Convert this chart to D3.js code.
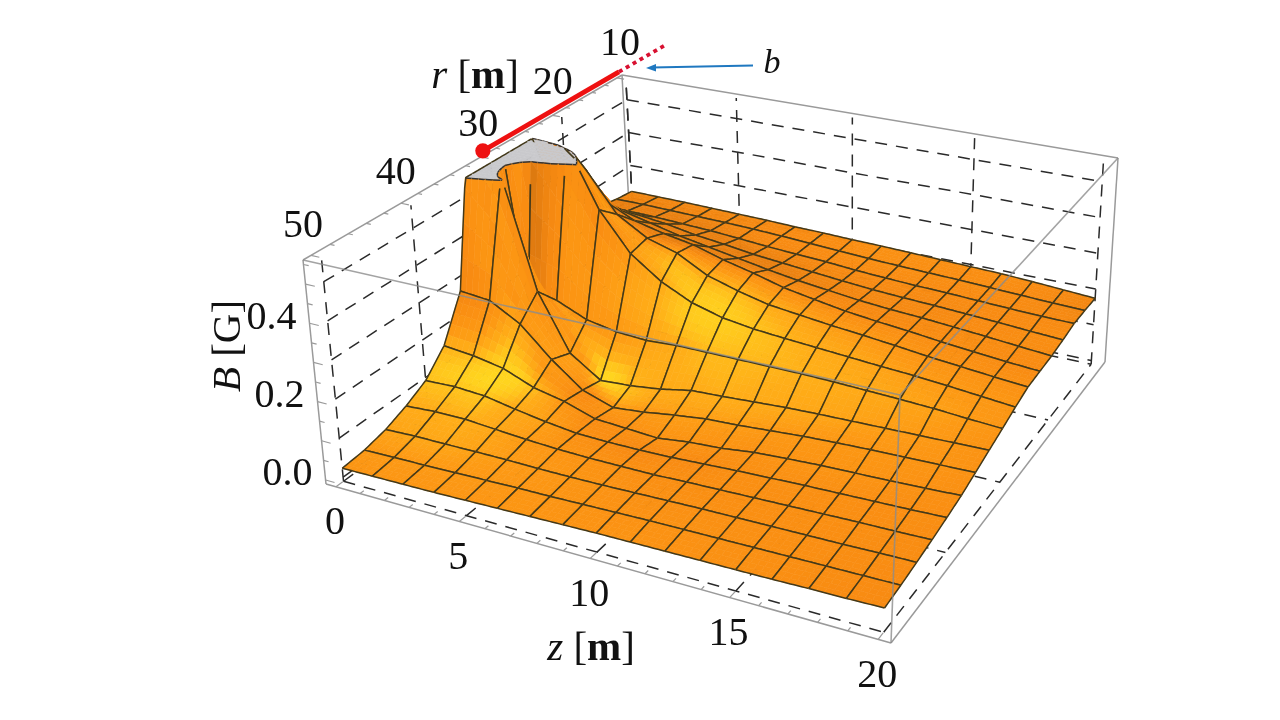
<!DOCTYPE html>
<html><head><meta charset="utf-8">
<script src="https://cdn.jsdelivr.net/npm/d3@7"></script>
<style>html,body{margin:0;padding:0;background:#fff}svg{display:block;filter:blur(.4px)}text{font-family:"Liberation Serif",serif;fill:#111}</style>
</head><body><svg id="c" width="1280" height="720"></svg>
<script>
// Tick labels
const zTicks=[0,5,10,15,20], rTicks=[50,40,30,20,10], bTicks=[0,0.2,0.4], bGrid=[0,0.1,0.2,0.3,0.4,0.5];
// B [G] sampled on the mesh, one array per r, from z=0 to z=20 in steps of 1.25 m
const r50  =[.023,.024,.025,.026,.028,.030,.032,.034,.036,.037,.038,.039,.040,.041,.043,.044,.046];
const r47_5=[.028,.030,.031,.033,.035,.037,.038,.040,.042,.044,.045,.046,.047,.048,.049,.050,.051];
const r45  =[.041,.044,.044,.045,.045,.044,.044,.045,.047,.049,.051,.052,.053,.054,.055,.057,.058];
const r42_5=[.063,.068,.068,.062,.056,.052,.050,.050,.050,.053,.055,.057,.059,.061,.063,.064,.066];
const r40  =[.092,.095,.090,.075,.062,.052,.050,.050,.052,.056,.060,.063,.066,.068,.070,.072,.075];
const r37_5=[.148,.140,.125,.093,.076,.050,.045,.040,.050,.055,.065,.070,.074,.076,.078,.081,.085];
const r35  =[.261,.253,.207,.130,.067,.040,.048,.060,.070,.074,.080,.086,.090,.093,.095,.097,.099];
const r32_5=[.700,.560,.260,.110,.055,.060,.070,.086,.090,.095,.100,.103,.105,.107,.109,.111,.113];
const r30  =[.900,.180,.200,.165,.150,.145,.150,.150,.150,.150,.150,.148,.145,.142,.138,.132,.127];
const r27_5=[.900,.800,.600,.435,.330,.270,.230,.207,.195,.188,.182,.176,.170,.165,.158,.150,.142];
const r25  =[.600,.570,.500,.390,.340,.315,.270,.245,.225,.215,.205,.197,.188,.178,.170,.162,.155];
const r22_5=[.420,.420,.380,.340,.320,.305,.280,.260,.237,.222,.208,.198,.190,.180,.172,.164,.158];
const r20  =[.330,.330,.320,.300,.280,.265,.250,.235,.222,.212,.202,.195,.190,.183,.176,.168,.161];
const r17_5=[.280,.280,.275,.265,.250,.240,.228,.220,.212,.204,.197,.192,.188,.183,.178,.172,.167];
const r15  =[.240,.240,.238,.234,.230,.224,.217,.212,.207,.200,.195,.191,.188,.184,.180,.177,.175];
const r12_5=[.228,.228,.226,.224,.222,.219,.215,.210,.205,.200,.196,.193,.190,.186,.182,.178,.175];
const r10  =[.221,.220,.219,.217,.215,.213,.210,.208,.205,.203,.200,.197,.194,.191,.186,.180,.174];
const rows=[r50,r47_5,r45,r42_5,r40,r37_5,r35,r32_5,r30,r27_5,r25,r22_5,r20,r17_5,r15,r12_5,r10];
const rMesh=d3.range(17).map(j=>50-2.5*j), zMesh=d3.range(17).map(i=>1.25*i);
const BMAX=0.55;

// scales into box coordinates
const zS=d3.scaleLinear([0,20],[.02,.98]), rS=d3.scaleLinear([50,10],[.02,.98]), bS=d3.scaleLinear([0,BMAX],[.018,.98]);

function homography(A,B,C,D){
  const sx=A[0]-B[0]+C[0]-D[0], sy=A[1]-B[1]+C[1]-D[1];
  const d1x=B[0]-C[0], d1y=B[1]-C[1], d2x=D[0]-C[0], d2y=D[1]-C[1];
  const det=d1x*d2y-d2x*d1y;
  const g=(sx*d2y-d2x*sy)/det, h=(d1x*sy-sx*d1y)/det;
  const a=B[0]-A[0]+g*B[0], b=D[0]-A[0]+h*D[0], c=A[0];
  const d=B[1]-A[1]+g*B[1], e=D[1]-A[1]+h*D[1], f=A[1];
  return (u,v)=>{const w=g*u+h*v+1;return [(a*u+b*v+c)/w,(d*u+e*v+f)/w];};
}
const floorH=homography([326,484],[891,643],[1105,362],[632,262]);
const topH  =homography([303,260],[900,395],[1118,158],[622,75]);
function P(u,v,t){const a=floorH(u,v),b=topH(u,v);return [a[0]+(b[0]-a[0])*t,a[1]+(b[1]-a[1])*t];}
const svg=d3.select('#c');
const line=d3.line();
function seg(g,pts,cls){return g.append('path').attr('d',line(pts)).attr('fill','none').attr('stroke',cls.stroke).attr('stroke-width',cls.w).attr('stroke-dasharray',cls.dash||null).attr('stroke-opacity',cls.op||1);}

// back: grid lines and back box edges
const back=svg.append('g');
const dash={stroke:'#2a2a2a',w:1.5,dash:'12 9'};
const boxS={stroke:'#9a9a9a',w:1.5};
zTicks.forEach(z=>{const u=zS(z);
  seg(back,[P(u,.02,0),P(u,.98,0)],dash);
  seg(back,[P(u,.98,0),P(u,.98,1)],dash);});
rTicks.forEach(r=>{const v=rS(r);
  seg(back,[P(.02,v,0),P(.98,v,0)],dash);
  seg(back,[P(.02,v,0),P(.02,v,1)],dash);});
bGrid.forEach(b=>{const t=bS(b);
  seg(back,[P(.02,.02,t),P(.02,.98,t)],dash);
  seg(back,[P(.02,.98,t),P(.98,.98,t)],dash);});
const e=(a,b)=>[P(...a),P(...b)];
[[[0,0,1],[0,1,1]],[[0,1,1],[1,1,1]],[[0,1,1],[0,1,0]],[[1,1,1],[1,1,0]],[[0,0,0],[0,0,1]],[[0,0,0],[1,0,0]],[[1,0,0],[1,1,0]]]
 .forEach(([a,b])=>seg(back,e(a,b),boxS));
// axis minor ticks
const tickS={stroke:'#9a9a9a',w:1.2};
d3.range(10,50.01,2).forEach(r=>{const v=rS(r),l=(r%10===0)?.016:.009;seg(back,[P(0,v,1),P(l,v,1)],tickS);});
d3.range(0,20.01,1).forEach(z=>{const u=zS(z),l=(z%5===0)?.018:.01;seg(back,[P(u,0,0),P(u,l,0)],tickS);});
d3.range(0,.551,.05).forEach(b=>{const t=bS(b),l=(Math.round(b*100)%10===0)?.018:.01;seg(back,[P(0,0,t),P(l,0,t)],tickS);});

// surface
const ramp=d3.scaleLinear().domain([.35,.5,.66,.78,.87,.94,1]).range(['#7f4a10','#b86810','#e67e10','#f98c12','#fd9a14','#ffae18','#ffdc20']).clamp(true);
const nI=17,nJ=17;
const uN=zMesh.map(z=>zS(z)), vN=rMesh.map(r=>rS(r));
const tV=rows.map(row=>row.map(b=>bS(b)));
const A=.5, L1=[.2,-.55,.8], L2=[.72,-.2,.6];
const su=[],sv=[];
for(let j=0;j<nJ;j++){su[j]=[];sv[j]=[];for(let i=0;i<nI;i++){
  const i0=Math.max(i-1,0),i1=Math.min(i+1,nI-1),j0=Math.max(j-1,0),j1=Math.min(j+1,nJ-1);
  const cl=x=>Math.min(x,1.15);
  su[j][i]=(cl(tV[j][i1])-cl(tV[j][i0]))/(uN[i1]-uN[i0])*A;
  sv[j][i]=(cl(tV[j1][i])-cl(tV[j0][i]))/(vN[j1]-vN[j0])*A;
}}
function bil(arr,i,j,a,b){return (1-a)*(1-b)*arr[j][i]+a*(1-b)*arr[j][i+1]+(1-a)*b*arr[j+1][i]+a*b*arr[j+1][i+1];}
const TC=.98;
const ops=[];
const poly=pts=>'M'+pts.map(p=>{const q=P(p.u,p.v,p.t);return q[0].toFixed(2)+','+q[1].toFixed(2);}).join('L')+'Z';
const path2=pts=>'M'+pts.map(q=>q[0].toFixed(2)+','+q[1].toFixed(2)).join('L');
const SUB=5;
const meshCol='#43391a';
function edgeOps(i,j,di,dj,clamp){
  let cur=[];
  const flush=()=>{if(cur.length>1)ops.push({d:path2(cur),fill:'none',stroke:meshCol,w:1.5});cur=[];};
  const N=SUB*2;
  for(let k=0;k<=N;k++){
    const s=k/N;
    const ci=Math.min(i,nI-2), cj=Math.min(j,nJ-2);
    const aa=di?s:(i-ci), bb=dj?s:(j-cj);
    const t=bil(tV,ci,cj,aa,bb);
    const u=uN[ci]+(uN[ci+1]-uN[ci])*aa, v=vN[cj]+(vN[cj+1]-vN[cj])*bb;
    if(t<=TC){cur.push(P(u,v,t));}
    else if(clamp){cur.push(P(u,v,TC));}
    else flush();
  }
  flush();
}
function splitPoly(vs){
  const below=[],above=[],cross=[];
  for(let k=0;k<vs.length;k++){
    const p=vs[k],q=vs[(k+1)%vs.length];
    const pb=p.t<=TC,qb=q.t<=TC;
    (pb?below:above).push(p);
    if(pb!==qb){const f=(TC-p.t)/(q.t-p.t);
      const m={u:p.u+(q.u-p.u)*f,v:p.v+(q.v-p.v)*f,t:TC};
      below.push(m);above.push(m);cross.push(m);}
  }
  return {below,above,cross};
}
for(let j=nJ-2;j>=0;j--){
  for(let i=0;i<nI-1;i++){
    for(let b=SUB-1;b>=0;b--){
      for(let a=0;a<SUB;a++){
        const corner=(x,y)=>({u:uN[i]+(uN[i+1]-uN[i])*x/SUB,v:vN[j]+(vN[j+1]-vN[j])*y/SUB,t:bil(tV,i,j,x/SUB,y/SUB)});
        const vs=[corner(a,b),corner(a+1,b),corner(a+1,b+1),corner(a,b+1)];
        const ca=(a+.5)/SUB,cb=(b+.5)/SUB;
        const ns=[-bil(su,i,j,ca,cb),-bil(sv,i,j,ca,cb),1];
        const len=Math.hypot(...ns);
        const I1=(ns[0]*L1[0]+ns[1]*L1[1]+ns[2]*L1[2])/len;
        const I2=(ns[0]*L2[0]+ns[1]*L2[1]+ns[2]*L2[2])/len*.92;
        const uMid=uN[i]+(uN[i+1]-uN[i])*ca;
        const fade=.07*Math.max(0,uMid-.35)/.65;
        // very steep faces (the deep slot behind the ridge) fall into shadow
        const wall=((1-ca)*(Math.min(tV[j+1][i],1.15)-tV[j][i])+ca*(Math.min(tV[j+1][i+1],1.15)-tV[j][i+1]))/(vN[j+1]-vN[j]);
        const shade=Math.max(0,Math.min(.32,(wall-11)*.07));
        const col=ramp(Math.max(I1-fade,I2-fade,.68)-shade);
        const {below,above,cross}=splitPoly(vs);
        if(above.length>2){const cap=above.map(p=>({u:p.u,v:p.v,t:TC}));
          ops.push({d:poly(cap),fill:'#c9c9cc',stroke:'#c9c9cc',w:.6});}
        if(below.length>2)ops.push({d:poly(below),fill:col,stroke:col,w:.6});
        if(cross.length===2)ops.push({d:path2(cross.map(p=>P(p.u,p.v,p.t))),fill:'none',stroke:'#333',w:1.5});
      }
    }
    edgeOps(i,j+1,true,false,false);
    edgeOps(i,j,true,false,false);
    edgeOps(i,j,false,true,i===0);
    edgeOps(i+1,j,false,true,false);
  }
}
svg.append('g').selectAll('path').data(ops).join('path')
  .attr('d',d=>d.d).attr('fill',d=>d.fill).attr('stroke',d=>d.stroke).attr('stroke-width',d=>d.w).attr('stroke-linejoin','round');

// front edges of box over the surface
const front=svg.append('g');
const boxF={stroke:'#8c8c8c',w:1.6,op:.8};
[[[0,0,1],[1,0,1]],[[1,0,1],[1,1,1]],[[1,0,1],[1,0,0]]].forEach(([a,b])=>seg(front,e(a,b),boxF));

// tick labels
const txt=(x,y,s,size)=>svg.append('text').attr('x',x).attr('y',y).attr('font-size',size).attr('text-anchor','middle').attr('dominant-baseline','central').text(s);
const rdx=d3.scaleLinear([50,10],[-8,3]),rdy=d3.scaleLinear([50,10],[-32,-36]);
rTicks.forEach(r=>{const p=P(0,rS(r),1);txt(p[0]+rdx(r),p[1]+rdy(r),String(r),40);});
zTicks.forEach(z=>{const p=P(zS(z),0,0);txt(p[0]-1,p[1]+34,String(z),40);});
bTicks.forEach(b=>{const p=P(0,0,bS(b));txt(p[0]-38,p[1]-8,b.toFixed(1),40);});

// axis titles
function title(x,y,parts,rot){
  const t=svg.append('text').attr('font-size',41).attr('text-anchor','middle').attr('dominant-baseline','central')
    .attr('transform',`translate(${x},${y})`+(rot?` rotate(${rot})`:''));
  parts.forEach(([s,st,w])=>t.append('tspan').attr('font-style',st||null).attr('font-weight',w||null).text(s));
}
title(475,74,[['r','italic'],[' ['],['m',null,'bold'],[']']]);
title(591,646,[['z','italic'],[' ['],['m',null,'bold'],[']']]);
title(226,346,[['B','italic'],[' [G]']],-90);

// annotation: red segment along r on the box top, blue arrow, letter b
const redSolid=[30,10], redDots=[10,2];
const up=p=>[p[0]+2,p[1]-6];
const R=r=>up(P(0,rS(r),1));
svg.append('path').attr('d',line(redDots.map(R))).attr('fill','none').attr('stroke','#d81030').attr('stroke-width',3.8).attr('stroke-dasharray','4 4');
svg.append('path').attr('d',line(redSolid.map(R))).attr('fill','none').attr('stroke','#ee1111').attr('stroke-width',4.8);
svg.append('circle').attr('cx',R(30)[0]).attr('cy',R(30)[1]).attr('r',7.6).attr('fill','#ee1111');
svg.append('path').attr('d','M753,65.5L652,67.5').attr('stroke','#1f78c0').attr('stroke-width',1.8).attr('fill','none');
svg.append('path').attr('d','M646,68L656,64L656,71.5Z').attr('fill','#1f78c0');
svg.append('text').attr('x',772).attr('y',61).attr('font-size',34).attr('font-style','italic').attr('text-anchor','middle').attr('dominant-baseline','central').text('b');
</script></body></html>
